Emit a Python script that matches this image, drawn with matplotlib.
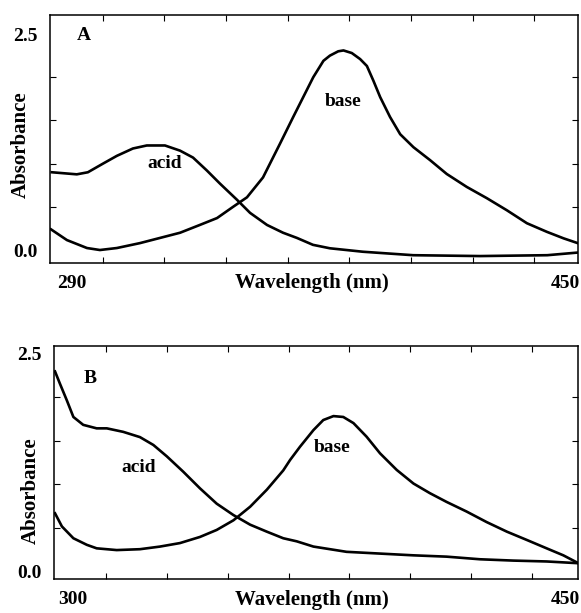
import numpy as np
import matplotlib.pyplot as plt

plt.rcParams['font.family'] = ['Liberation Serif', 'DejaVu Serif']
plt.rcParams['font.weight'] = 'bold'

# panel A
wl_acid_a = [283.5, 291.6, 295.2, 300.1, 304.6, 309.8, 314.3, 320.2, 325.1, 329.3, 333.8,
             338.0, 343.6, 347.8, 353.3, 358.5, 363.0, 368.2, 373.7, 384.4, 400.7, 422.4,
             444.2, 453.9]
abs_acid_a = [0.90, 0.876, 0.90, 1.00, 1.09, 1.175, 1.21, 1.21, 1.15, 1.07, 0.92,
              0.77, 0.58, 0.43, 0.29, 0.20, 0.14, 0.06, 0.02, -0.02, -0.06, -0.07,
              -0.06, -0.03]
wl_base_a = [283.2, 288.4, 294.9, 299.1, 304.6, 312.1, 318.6, 325.1, 331.5, 337.1, 342.3,
             346.8, 352.0, 357.5, 361.8, 368.3, 371.6, 373.7, 376.4, 378.1, 380.8, 383.5,
             385.7, 387.8, 390.0, 393.2, 396.5, 400.8, 406.2, 411.6, 418.1, 424.6, 431.1,
             437.6, 444.1, 449.5, 454.3]
abs_base_a = [0.24, 0.115, 0.023, 0.0, 0.023, 0.08, 0.14, 0.20, 0.29, 0.37, 0.50,
              0.61, 0.84, 1.23, 1.54, 2.00, 2.19, 2.25, 2.30, 2.31, 2.28, 2.21,
              2.13, 1.96, 1.77, 1.54, 1.34, 1.19, 1.04, 0.88, 0.73, 0.60, 0.46,
              0.31, 0.21, 0.135, 0.077]

# panel B
wl_acid_b = [294.5, 296.0, 298.1, 300.1, 303.1, 307.2, 310.3, 315.3, 320.4, 324.5, 328.6,
             333.6, 338.7, 343.8, 348.9, 354.0, 359.1, 364.1, 368.2, 373.3, 383.4, 393.6,
             403.8, 413.9, 424.1, 434.2, 444.4, 454.1]
abs_acid_b = [2.29, 2.15, 1.96, 1.77, 1.68, 1.64, 1.64, 1.60, 1.54, 1.45, 1.32,
              1.145, 0.955, 0.78, 0.65, 0.54, 0.46, 0.385, 0.35, 0.29, 0.23, 0.21,
              0.19, 0.175, 0.145, 0.13, 0.12, 0.10]
wl_base_b = [294.5, 296.6, 300.1, 304.2, 307.2, 313.3, 320.4, 326.5, 332.6, 338.7, 343.8,
             348.9, 354.0, 359.1, 364.1, 366.2, 369.2, 373.3, 376.3, 379.4, 382.4, 385.5,
             389.5, 393.6, 398.7, 403.8, 408.8, 413.9, 420.0, 426.1, 432.3, 438.4, 444.4,
             449.5, 454.1]
abs_base_b = [0.67, 0.52, 0.385, 0.31, 0.27, 0.25, 0.26, 0.29, 0.33, 0.40, 0.48,
              0.59, 0.745, 0.94, 1.16, 1.28, 1.43, 1.62, 1.735, 1.78, 1.77, 1.70,
              1.545, 1.355, 1.165, 1.01, 0.90, 0.80, 0.69, 0.57, 0.46, 0.365, 0.27,
              0.19, 0.10]

fig = plt.figure(figsize=(5.81, 6.13), dpi=100)
axA = fig.add_axes([0.086, 0.571, 0.909, 0.4045])
axB = fig.add_axes([0.093, 0.0555, 0.902, 0.380])

panels = [
    (axA, 'A', wl_acid_a, abs_acid_a, wl_base_a, abs_base_a, (282.9, 454.2), (-0.15, 2.72),
     290, (0.05, 0.9), (320, 1.0), (378, 1.72), (-0.055, 0.476), (0.496, -0.08)),
    (axB, 'B', wl_acid_b, abs_acid_b, wl_base_b, abs_base_b, (294.2, 454.0), (-0.08, 2.58),
     300, (0.057, 0.84), (320, 1.19), (379, 1.42), (-0.045, 0.38), (0.492, -0.09)),
]

for ax, tag, wa, aa, wb, ab, xl, yl, x0, tagpos, acidpos, basepos, ylpos, xlpos in panels:
    ax.plot(wa, aa, color='black', lw=1.9, solid_joinstyle='round')
    ax.plot(wb, ab, color='black', lw=1.9, solid_joinstyle='round')
    ax.set_xlim(*xl)
    ax.set_ylim(*yl)
    ax.set_xticks([x0, 450], [str(x0), '450'])
    ax.set_yticks([0.0, 2.5], ['0.0', '2.5'])
    ax.set_xticks(np.linspace(x0 + 10, 440, 8), minor=True)
    ax.set_yticks([0.5, 1.0, 1.5, 2.0], minor=True)
    ax.tick_params(which='major', length=0, labelsize=14, pad=9)
    ax.tick_params(which='minor', direction='in', length=4, width=0.8,
                   top=True, right=True)
    for s in ax.spines.values():
        s.set_linewidth(1.1)
    ax.set_xlabel('Wavelength (nm)', fontsize=15, fontweight='bold', va='center')
    ax.xaxis.set_label_coords(*xlpos)
    ax.set_ylabel('Absorbance', fontsize=15, fontweight='bold', va='center')
    ax.yaxis.set_label_coords(*ylpos)
    ax.text(*tagpos, tag, transform=ax.transAxes, fontsize=14, fontweight='bold')
    ax.text(*acidpos, 'acid', fontsize=14, fontweight='bold', ha='center', va='center')
    ax.text(*basepos, 'base', fontsize=14, fontweight='bold', ha='center', va='center')

fig.savefig('out.png', dpi=100)
